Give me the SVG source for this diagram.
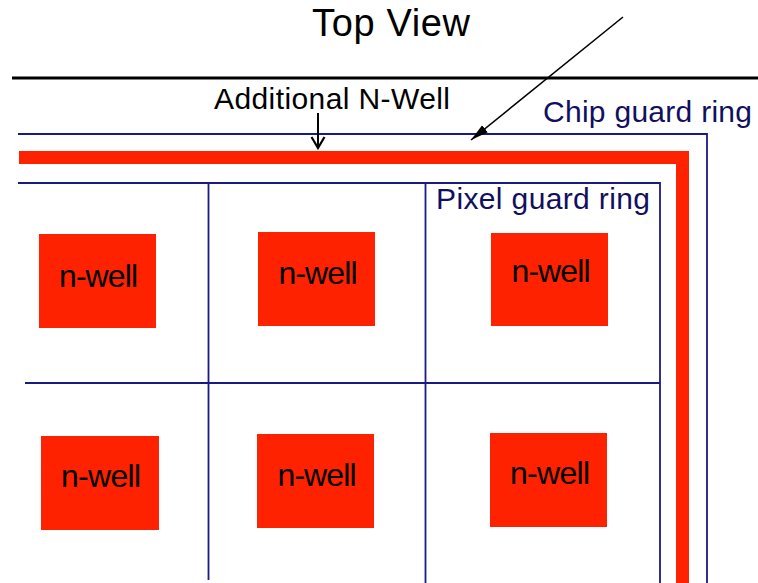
<svg xmlns="http://www.w3.org/2000/svg" width="758" height="583" viewBox="0 0 758 583">
<defs>
<style>
.blue{stroke:#1a1a85;stroke-width:1.8;fill:none}
.red{fill:#ff2200}
.t{font-family:"Liberation Sans",Arial,sans-serif}
.nw{font-family:"Liberation Sans",Arial,sans-serif;font-size:32px;fill:#000;text-anchor:middle}
.navy{fill:#10105e}
</style>
<marker id="vhead" markerWidth="14" markerHeight="16" refX="12" refY="8" orient="auto" markerUnits="userSpaceOnUse">
<path d="M1,1.5 L12,8 L1,14.5" fill="none" stroke="#000" stroke-width="2.2"/>
</marker>
<marker id="dhead" markerWidth="20" markerHeight="12" refX="18" refY="6" orient="auto" markerUnits="userSpaceOnUse">
<path d="M0,1.5 L18,6 L0,10.5 Z" fill="#000"/>
</marker>
</defs>
<rect width="758" height="583" fill="#fff"/>
<text class="t" x="391" y="36" font-size="38" text-anchor="middle" textLength="158">Top View</text>
<line x1="12" y1="78" x2="758" y2="78" stroke="#000" stroke-width="3"/>

<g id="chip-guard-ring">
<path class="blue" d="M18,134 H707 V583"/>
<text class="t navy" x="543" y="122" font-size="30" textLength="209">Chip guard ring</text>
</g>

<g id="additional-nwell">
<path class="red" d="M19,151 H689 V583 H676 V164 H19 Z"/>
<text class="t" x="214" y="109" font-size="30" textLength="236">Additional N-Well</text>
</g>

<g id="pixel-grid">
<path class="blue" d="M18,183 H660 V583"/>
<line class="blue" x1="208.5" y1="183" x2="208.5" y2="580"/>
<line class="blue" x1="425.5" y1="183" x2="425.5" y2="583"/>
<line class="blue" x1="25" y1="383" x2="660" y2="383"/>
<text class="t navy" x="436" y="209" font-size="30" textLength="214">Pixel guard ring</text>
</g>

<g id="nwell-1"><rect class="red" x="39" y="234" width="117" height="94"/><text class="nw" x="98.5" y="287" textLength="79">n-well</text></g>
<g id="nwell-2"><rect class="red" x="258" y="232" width="117" height="94"/><text class="nw" x="318" y="284" textLength="79">n-well</text></g>
<g id="nwell-3"><rect class="red" x="491" y="233" width="117" height="93"/><text class="nw" x="551" y="282" textLength="79">n-well</text></g>
<g id="nwell-4"><rect class="red" x="41" y="436" width="118" height="94"/><text class="nw" x="101" y="487" textLength="80">n-well</text></g>
<g id="nwell-5"><rect class="red" x="257" y="434" width="117" height="94"/><text class="nw" x="317" y="486" textLength="79">n-well</text></g>
<g id="nwell-6"><rect class="red" x="490" y="433" width="117" height="94"/><text class="nw" x="550" y="484" textLength="80">n-well</text></g>

<g id="connectors">
<line x1="318" y1="113" x2="318" y2="148" stroke="#000" stroke-width="2" marker-end="url(#vhead)"/>
<line x1="623" y1="17" x2="471" y2="140" stroke="#000" stroke-width="1.6" marker-end="url(#dhead)"/>
</g>
</svg>
